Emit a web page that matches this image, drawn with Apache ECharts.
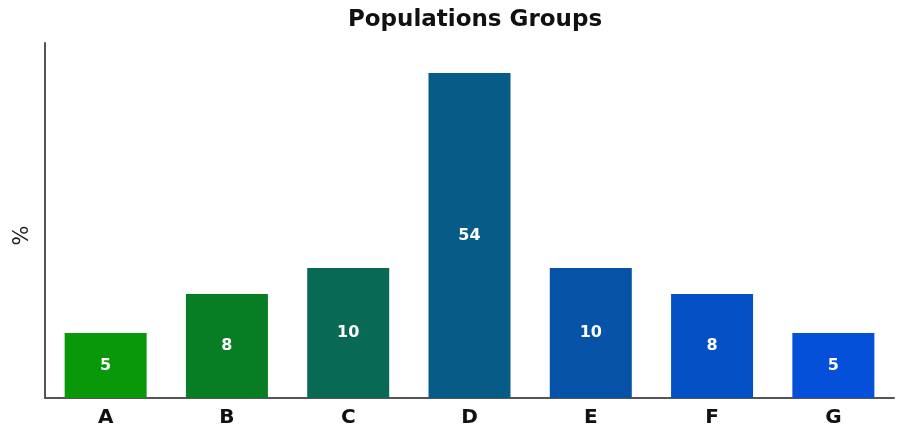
<!DOCTYPE html>
<html>
<head>
<meta charset="utf-8">
<title>Populations Groups</title>
<script src="https://cdn.jsdelivr.net/npm/echarts@6/dist/echarts.min.js"></script>
<style>
    html, body { margin: 0; padding: 0; background: #fff; }
    #chart { width: 901px; height: 431px; }
</style>
</head>
<body>
<div id="chart"></div>
<script>
    "use strict";

    const categories = ["A", "B", "C", "D", "E", "F", "G"];
    const values = [5, 8, 10, 54, 10, 8, 5];
    const barColors = ["#089808", "#087e24", "#086a54", "#065c86", "#0552a6", "#0451c6", "#0450d8"];
    // the reference squishes the tall bar at the top of the panel
    const cap = 25;
    const yMax = 27.3;

    const myChart = echarts.init(document.getElementById("chart"));
    let options = {
        animation: false,
        title: {
            text: "Populations Groups",
            left: 470,
            textAlign: "center",
            top: 4,
            textStyle: {
                fontFamily: "DejaVu Sans",
                fontWeight: "bold",
                fontSize: 23,
                color: "#111"
            }
        },
        grid: {
            left: 45,
            right: 7,
            top: 43,
            bottom: 33
        },
        xAxis: {
            type: "category",
            data: categories,
            axisLine: { lineStyle: { color: "#555", width: 2 } },
            axisTick: { show: false },
            axisLabel: {
                margin: 10,
                fontFamily: "DejaVu Sans",
                fontWeight: "bold",
                fontSize: 20,
                color: "#111"
            }
        },
        yAxis: {
            type: "value",
            min: 0,
            max: yMax,
            name: "%",
            nameLocation: "middle",
            nameRotate: 90,
            nameGap: 12,
            nameTextStyle: {
                fontFamily: "DejaVu Sans",
                fontSize: 21,
                color: "#222",
                padding: [0, 30, 0, 0]
            },
            axisLine: { show: true, lineStyle: { color: "#555", width: 2 } },
            axisTick: { show: false },
            axisLabel: { show: false },
            splitLine: { show: false }
        },
        series: [
            {
                type: "bar",
                barWidth: "67.6%",
                data: values.map((v, i) => ({
                    value: Math.min(v, cap),
                    itemStyle: { color: barColors[i] }
                })),
                label: {
                    show: true,
                    position: "inside",
                    formatter: p => String(values[p.dataIndex]),
                    fontFamily: "DejaVu Sans",
                    fontWeight: "bold",
                    fontSize: 16,
                    color: "#fff"
                }
            }
        ]
    };
    myChart.setOption(options);
</script>
</body>
</html>
